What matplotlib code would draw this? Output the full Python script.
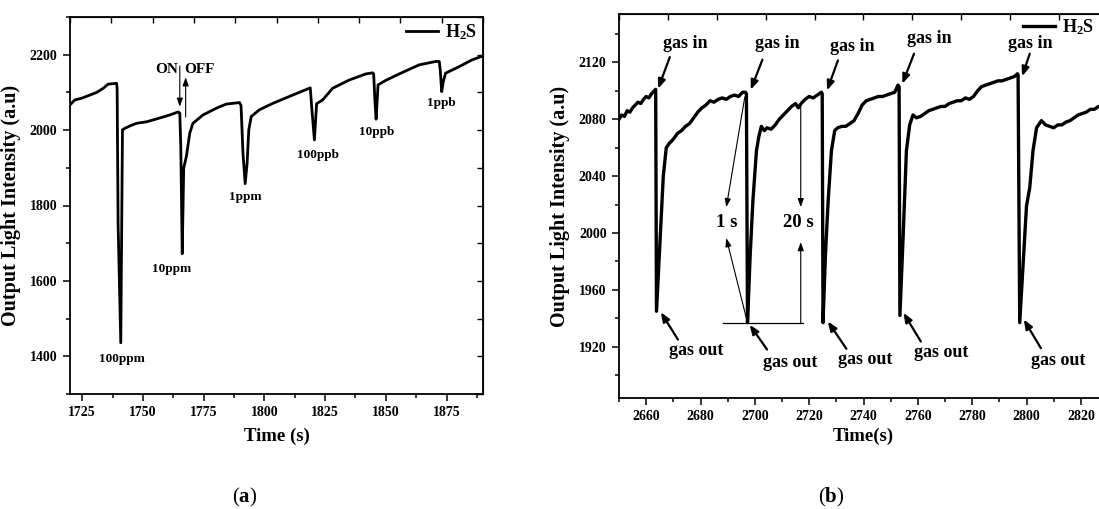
import numpy as np
import matplotlib
matplotlib.use("Agg")
import matplotlib.pyplot as plt
from matplotlib.ticker import MultipleLocator

plt.rcParams["font.family"] = ["Liberation Serif", "DejaVu Serif"]
plt.rcParams["font.weight"] = "bold"
plt.rcParams["mathtext.fontset"] = "custom"
plt.rcParams["mathtext.rm"] = "Liberation Serif:bold"
plt.rcParams["mathtext.it"] = "Liberation Serif:bold"
plt.rcParams["mathtext.bf"] = "Liberation Serif:bold"

# ── (a) réponse à différentes concentrations ─────────────────────────────────
time_a = [1720, 1722, 1725, 1728.2, 1731, 1733.7, 1735.7, 1739.2,
          1739.4, 1739.8, 1740.9, 1741.6, 1742.7, 1745, 1747.4, 1751.5,
          1756.9, 1761, 1764.5, 1765.2, 1765.6, 1766.2, 1766.8, 1767.9,
          1769.3, 1770.6, 1774.7, 1780.2, 1784.3, 1789.8, 1790.4, 1791.2,
          1792.1, 1792.9, 1793.6, 1794.6, 1798, 1803.5, 1811.7, 1818.5,
          1818.9, 1819.5, 1820.6, 1821.5, 1824, 1828.1, 1835, 1841.8,
          1844.6, 1845.0, 1845.5, 1846.0, 1846.8, 1850, 1855.5, 1863.7,
          1870.5, 1872.0, 1872.4, 1873.0, 1873.7, 1874.6, 1880.1, 1885.4,
          1890]
intensity_a = [2067, 2080, 2085, 2093, 2100, 2111, 2122, 2124,
               2110, 1750, 1436, 2001, 2005, 2012, 2018, 2022,
               2032, 2040, 2048, 2045, 1957, 1672, 1899, 1930,
               1992, 2018, 2040, 2058, 2069, 2073, 2065, 1939,
               1858, 1912, 2001, 2036, 2054, 2071, 2093, 2111,
               2112, 2060, 1974, 2070, 2080, 2111, 2133, 2149,
               2152, 2148, 2080, 2029, 2120, 2132, 2149, 2173,
               2182, 2182, 2160, 2102, 2130, 2151, 2168, 2186,
               2197]

conc_labels = ["100ppm", "10ppm", "1ppm", "100ppb", "10ppb", "1ppb"]
conc_t = [1741.3, 1762.0, 1792.2, 1822.0, 1846.4, 1872.7]
conc_v = [1394, 1632, 1823, 1934, 1995, 2072]

# ── (b) temps de réponse ─────────────────────────────────────────────────────
time_b = [2650.0, 2651.0, 2652.0, 2653.0, 2654.0, 2655.0, 2656.0, 2657.0,
          2658.0, 2659.0, 2660.0, 2661.0, 2662.0, 2663.0, 2663.5,
          2663.8, 2664.6, 2665.4, 2666.3, 2667.4, 2668.5, 2670.0, 2671.5,
          2673.0, 2674.5, 2676.0, 2677.5, 2679.0, 2680.5, 2682.0, 2683.5,
          2685.0, 2686.5, 2688.0, 2689.5, 2691.0, 2692.5, 2694.0, 2695.5,
          2696.5, 2696.9,
          2697.3, 2698.3, 2699.3, 2700.6, 2701.5, 2702.4, 2703.5, 2704.5,
          2706.0, 2707.5, 2709.0, 2710.5, 2712.0, 2713.5, 2715.0, 2716.0,
          2717.0, 2718.5, 2720.0, 2721.5, 2723.0, 2724.5, 2724.8,
          2725.1, 2726.0, 2727.0, 2728.2, 2729.4, 2730.5, 2732.0, 2733.5,
          2735.0, 2736.5, 2738.0, 2739.5, 2741.0, 2742.5, 2744.0, 2745.5,
          2747.0, 2748.5, 2750.0, 2751.5, 2752.7, 2753.1,
          2753.4, 2754.6, 2755.8, 2757.0, 2758.2, 2759.5, 2761.0, 2762.5,
          2764.0, 2765.5, 2767.0, 2768.5, 2770.0, 2771.5, 2773.0, 2774.5,
          2776.0, 2777.5, 2779.0, 2780.5, 2782.0, 2783.5, 2785.0, 2786.5,
          2788.0, 2789.5, 2791.0, 2792.5, 2794.0, 2795.5, 2796.7, 2796.9,
          2797.5, 2800.0, 2801.2, 2802.4, 2803.7, 2805.5, 2807.0, 2808.5,
          2810.0, 2811.5, 2813.0, 2814.5, 2816.0, 2817.5, 2819.0, 2820.5,
          2822.0, 2823.5, 2825.0, 2826.5, 2828.0, 2830.0]
intensity_b = [2080, 2083, 2082, 2086, 2085, 2088, 2090, 2092,
               2091, 2094, 2096, 2095, 2098, 2100, 2101,
               1945, 1975, 2005, 2040, 2060, 2063, 2066, 2070,
               2072, 2075, 2077, 2081, 2085, 2088, 2090, 2093,
               2092, 2094, 2095, 2094, 2096, 2097, 2096, 2099,
               2099, 2098,
               1937, 1985, 2023, 2058, 2068, 2075, 2072, 2074,
               2073, 2076, 2080, 2083, 2086, 2089, 2091, 2088,
               2091, 2094, 2096, 2095, 2097, 2099, 2098,
               1937, 1985, 2023, 2058, 2072, 2074, 2075, 2075,
               2077, 2079, 2084, 2090, 2093, 2094, 2095, 2096,
               2096, 2097, 2098, 2099, 2104, 2103,
               1942, 1998, 2058, 2076, 2083, 2081, 2082, 2084,
               2086, 2087, 2088, 2089, 2089, 2091, 2092, 2093,
               2093, 2095, 2094, 2096, 2100, 2103, 2104, 2105,
               2106, 2107, 2107, 2108, 2109, 2110, 2112, 2111,
               1937, 2019, 2032, 2058, 2074, 2079, 2076, 2075,
               2074, 2076, 2076, 2078, 2079, 2081, 2083, 2084,
               2085, 2087, 2087, 2089, 2089, 2090]

gas_in_t = [2674.3, 2708.4, 2736.0, 2764.1, 2801.5]
gas_in_v = [2133.2, 2133.2, 2131.0, 2136.7, 2133.2]
gas_in_tail = [(2668.7, 2123.7), (2702.8, 2121.9), (2730.6, 2121.4),
               (2758.6, 2126.1), (2801.2, 2126.1)]
gas_in_head = [(2664.4, 2101.5), (2698.5, 2100.8), (2726.6, 2100.3),
               (2754.3, 2105.0), (2798.4, 2110.2)]

gas_out_t = [2678.5, 2712.9, 2740.6, 2768.5, 2811.6]
gas_out_v = [1917.4, 1909.2, 1911.0, 1916.2, 1910.4]
gas_out_tail = [(2671.7, 1925.1), (2704.5, 1918.1), (2733.7, 1918.6),
                (2761.1, 1923.7), (2805.3, 1919.0)]
gas_out_head = [(2665.4, 1944.3), (2698.1, 1935.5), (2726.9, 1937.8),
                (2754.7, 1943.9), (2799.0, 1939.2)]

W, H = 1099, 509
fig = plt.figure(figsize=(W / 100, H / 100), dpi=100)

BIG = dict(arrowstyle="-|>,head_length=0.55,head_width=0.22", color="black",
           lw=1.6, shrinkA=0, shrinkB=0)
THIN = dict(arrowstyle="-|>,head_length=0.5,head_width=0.18", color="black",
            lw=0.8, shrinkA=0, shrinkB=0)


def style_axes(ax, xlim, ylim, xmaj, xmin, ymaj, ymin):
    ax.set_xlim(*xlim)
    ax.set_ylim(*ylim)
    ax.xaxis.set_major_locator(MultipleLocator(xmaj))
    ax.xaxis.set_minor_locator(MultipleLocator(xmin))
    ax.yaxis.set_major_locator(MultipleLocator(ymaj))
    ax.yaxis.set_minor_locator(MultipleLocator(ymin))
    ax.tick_params(which="major", direction="out", length=5, width=1.1,
                   labelsize=10, pad=4)
    ax.tick_params(which="minor", direction="out", length=3, width=1.1)
    for sp in ax.spines.values():
        sp.set_linewidth(1.3)
    for lab in ax.get_xticklabels() + ax.get_yticklabels():
        lab.set_fontweight("bold")
    # petites graduations façon Origin en haut et à droite (10 divisions)
    top = ax.secondary_xaxis("top")
    top.set_xticks(np.linspace(xlim[0], xlim[1], 11))
    top.tick_params(direction="in", length=4, width=1.0, labeltop=False)
    right = ax.secondary_yaxis("right")
    right.set_yticks(np.linspace(ylim[0], ylim[1], 11))
    right.tick_params(direction="in", length=4, width=1.0, labelright=False)


# ── Panel (a) ────────────────────────────────────────────────────────────────
ax_a = fig.add_axes([70 / W, 1 - 394 / H, 413 / W, 377 / H])
ax_a.plot(time_a, intensity_a, color="black", lw=2.0, label=r"H$_2$S")
style_axes(ax_a, (1720, 1890), (1300, 2300), 25, 12.5, 200, 100)
ax_a.set_xlabel("Time (s)", fontsize=13.5, fontweight="bold", labelpad=6)
ax_a.set_ylabel("Output Light Intensity (a.u)", fontsize=14.5,
                fontweight="bold", labelpad=6)
ax_a.legend(loc="upper right", frameon=False, fontsize=13, handlelength=1.8,
            handletextpad=0.4, borderaxespad=0.1, borderpad=0.2)

for lbl, t, v in zip(conc_labels, conc_t, conc_v):
    ax_a.text(t, v, lbl, ha="center", va="center", fontsize=9.5,
              fontweight="bold")

ax_a.text(1764.5, 2160, "ON", ha="right", va="center", fontsize=11,
          fontweight="bold")
ax_a.text(1767.0, 2160, "OFF", ha="left", va="center", fontsize=11,
          fontweight="bold")
ax_a.annotate("", xy=(1765.2, 2062), xytext=(1765.2, 2170), arrowprops=THIN)
ax_a.annotate("", xy=(1767.6, 2140), xytext=(1767.6, 2035), arrowprops=THIN)

# ── Panel (b) ────────────────────────────────────────────────────────────────
ax_b = fig.add_axes([619 / W, 1 - 398 / H, 489 / W, 384 / H])
ax_b.plot(time_b, intensity_b, color="black", lw=2.4, label=r"H$_2$S")
style_axes(ax_b, (2650, 2830), (1884, 2154), 20, 10, 40, 20)
ax_b.set_xlabel("Time(s)", fontsize=13.5, fontweight="bold", labelpad=3)
ax_b.set_ylabel("Output Light Intensity (a.u)", fontsize=14.5,
                fontweight="bold", labelpad=6)
# axe coupé à droite : la légende est ramenée juste dans l'image
ax_b.legend(loc="upper right", bbox_to_anchor=(1098 / W, 1 - 14 / H),
            bbox_transform=fig.transFigure, frameon=False, fontsize=13,
            handlelength=1.8, handletextpad=0.4, borderaxespad=0.0,
            borderpad=0.2)

for t, v in zip(gas_in_t, gas_in_v):
    ax_b.text(t, v, "gas in", ha="center", va="center", fontsize=13,
              fontweight="bold")
for tail, head in zip(gas_in_tail, gas_in_head):
    ax_b.annotate("", xy=head, xytext=tail, arrowprops=BIG)

for t, v in zip(gas_out_t, gas_out_v):
    ax_b.text(t, v, "gas out", ha="center", va="center", fontsize=13,
              fontweight="bold")
for tail, head in zip(gas_out_tail, gas_out_head):
    ax_b.annotate("", xy=head, xytext=tail, arrowprops=BIG)

# construction 1 s / 20 s
ax_b.plot([2688.1, 2717.8], [1936.6, 1936.6], color="black", lw=0.9)
ax_b.text(2689.8, 2007.7, "1 s", ha="center", va="center", fontsize=13.5,
          fontweight="bold")
ax_b.text(2716.0, 2007.7, "20 s", ha="center", va="center", fontsize=13.5,
          fontweight="bold")
ax_b.annotate("", xy=(2689.5, 2018.2), xytext=(2696.3, 2095.6), arrowprops=THIN)
ax_b.annotate("", xy=(2689.5, 1996.4), xytext=(2697.3, 1936.9), arrowprops=THIN)
ax_b.annotate("", xy=(2716.9, 2018.2), xytext=(2716.9, 2089.0), arrowprops=THIN)
ax_b.annotate("", xy=(2716.9, 1993.6), xytext=(2716.9, 1936.6), arrowprops=THIN)

# légendes des panneaux
fig.text(245 / W, 1 - 497 / H, r"($\mathbf{a}$)", ha="center", va="center",
         fontsize=15, fontweight="normal")
fig.text(831 / W, 1 - 497 / H, r"($\mathbf{b}$)", ha="center", va="center",
         fontsize=15, fontweight="normal")

fig.savefig("out.png", dpi=100)
plt.close(fig)
